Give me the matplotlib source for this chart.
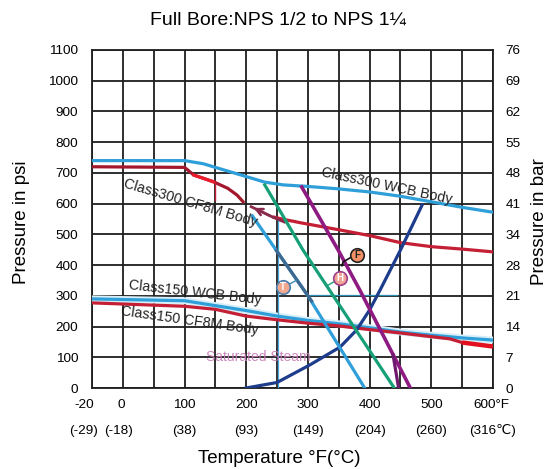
import numpy as np
import matplotlib
matplotlib.use("Agg")
import matplotlib.pyplot as plt
import matplotlib.transforms as mtransforms

plt.rcParams['font.family'] = ['Liberation Sans', 'DejaVu Sans']

# ---------------- data ----------------
x_tick_f = [-20, 0, 100, 200, 300, 400, 500, 600]
x_tick_f_labels = ["-20", "0", "100", "200", "300", "400", "500", "600°F"]
x_tick_c_labels = ["(-29)", "(-18)", "(38)", "(93)", "(149)", "(204)", "(260)", "(316℃)"]
y_psi_ticks = [0, 100, 200, 300, 400, 500, 600, 700, 800, 900, 1000, 1100]
y_bar_labels = ["0", "7", "14", "21", "28", "34", "41", "48", "55", "62", "69", "76"]

c300_wcb_t = [-20, 100, 130, 160, 200, 230, 260, 300, 350, 400, 450, 500, 550, 600]
c300_wcb_p = [740, 740, 730, 712, 688, 670, 661, 656, 648, 638, 624, 606, 588, 572]

c300_cf8m_t1 = [-20, 100, 115, 147, 170, 185, 195]
c300_cf8m_p1 = [720, 718, 693, 671, 650, 628, 606]
c300_cf8m_t2 = [245, 260, 290, 350, 400, 450, 500, 550, 600]
c300_cf8m_p2 = [556, 549, 537, 515, 496, 473, 460, 452, 443]
c300_arrow_t = [262, 243, 208]
c300_arrow_p = [540, 556, 590]

c150_wcb_t = [-20, 100, 150, 200, 250, 300, 350, 400, 450, 500, 550, 600]
c150_wcb_p = [290, 284, 268, 252, 234, 220, 209, 196, 182, 172, 163, 156]

c150_cf8m_t = [-20, 100, 150, 200, 250, 300, 350, 400, 450, 500, 530, 550]
c150_cf8m_p = [277, 266, 256, 234, 222, 211, 202, 190, 179, 167, 160, 148]
c150_cf8m_end_t = [550, 600]
c150_cf8m_end_p = [148, 135]

seat_t_t = [210, 300, 392]
seat_t_p = [560, 300, 0]
seat_t_dark_t = [249, 306]
seat_t_dark_p = [447, 283]

seat_h_t = [230, 292, 440]
seat_h_p = [661, 449, 0]

seat_f_t = [290, 349, 384, 466]
seat_f_p = [654, 449, 319, 0]
seat_f_branch_t = [438, 447]
seat_f_branch_p = [108, 0]

steam_t = [200, 250, 303, 352, 379, 400, 417, 450, 485]
steam_p = [0, 18, 75, 133, 189, 254, 319, 449, 595]

# ---------------- figure ----------------
W, H = 555, 469
fig = plt.figure(figsize=(W / 100, H / 100), dpi=100)
ax = fig.add_axes([92 / W, 1 - 388 / H, (493 - 92) / W, (388 - 50) / H])


def fwd(x):
    x = np.asarray(x, dtype=float)
    return np.where(x < 0, x * 2.5, x)


def inv(y):
    y = np.asarray(y, dtype=float)
    return np.where(y < 0, y / 2.5, y)


ax.set_xscale('function', functions=(fwd, inv))
ax.set_xlim(-20, 600)
ax.set_ylim(0, 1100)

grid_col = '#1e1e1e'
ax.set_xticks([-20, 0, 100, 200, 300, 400, 500, 600])
ax.set_xticks([50, 150, 250, 350, 450, 550], minor=True)
ax.set_yticks(y_psi_ticks)
ax.grid(True, which='both', color=grid_col, lw=1.3, zorder=0)
ax.tick_params(which='both', length=0)
ax.set_xticklabels([])
ax.set_yticklabels([str(v) for v in y_psi_ticks], fontsize=9.7)
ax.tick_params(axis='y', pad=10)
for s in ax.spines.values():
    s.set_color(grid_col)
    s.set_linewidth(1.3)

ax2 = ax.twinx()
ax2.set_ylim(0, 1100)
ax2.set_yticks(y_psi_ticks)
ax2.set_yticklabels(y_bar_labels, fontsize=9.7)
ax2.tick_params(length=0, pad=9)
for s in ax2.spines.values():
    s.set_visible(False)

# x tick labels (two rows)
blend = mtransforms.blended_transform_factory(ax.transData, ax.transAxes)
dx_px = {-20: -8, 0: -2, 600: -2}
for t, lf, lc in zip(x_tick_f, x_tick_f_labels, x_tick_c_labels):
    off = mtransforms.ScaledTranslation(dx_px.get(t, 0) / 100, 0, fig.dpi_scale_trans)
    ax.text(t, -0.05, lf, transform=blend + off, ha='center', va='center', fontsize=9.7)
    off2 = mtransforms.ScaledTranslation((dx_px.get(t, 0) - 2 if t == 0 else dx_px.get(t, 0) + (2 if t == 600 else 0)) / 100, 0, fig.dpi_scale_trans)
    ax.text(t, -0.127, lc, transform=blend + off2, ha='center', va='center', fontsize=9.7)

# ---------------- curves ----------------
lblue = '#2f9fd9'
red = '#c41f35'
dred = '#a3172d'
green = '#17a078'
purple = '#8e1b82'
navy = '#1d3c8c'
slate = '#3e6890'

lw = 2.3
ax.plot(c150_wcb_t, c150_wcb_p, color='#d8eef8', lw=5.0, zorder=3, solid_capstyle='butt')
ax.plot(c150_wcb_t, c150_wcb_p, color=lblue, lw=lw, zorder=4)
ax.plot(c150_cf8m_t, c150_cf8m_p, color=red, lw=lw, zorder=4)
ax.plot(c150_cf8m_end_t, c150_cf8m_end_p, color='#e3101f', lw=3.2, zorder=4, solid_capstyle='butt')

ax.plot(c300_wcb_t, c300_wcb_p, color=lblue, lw=lw, zorder=4)
ax.plot(c300_cf8m_t1, c300_cf8m_p1, color=dred, lw=lw, zorder=4)
ax.plot([115, 147], [693, 671], color='#ec1c2c', lw=lw, zorder=4)
ax.plot([150, 150], [612, 671], color=red, lw=1.0, zorder=4)
ax.plot(c300_cf8m_t2, c300_cf8m_p2, color=red, lw=lw, zorder=4)
ax.plot(c300_arrow_t, c300_arrow_p, color='#8a2a4c', lw=2.0, zorder=4)
ax.annotate('', xy=(c300_arrow_t[-1], c300_arrow_p[-1]), xytext=(c300_arrow_t[-2], c300_arrow_p[-2]),
            arrowprops=dict(arrowstyle='->', color='#8a2a4c', lw=1.8, mutation_scale=12), zorder=4)

# construction lines
ax.plot([251, 251], [0, 547], color='#4aa8e0', lw=0.9, zorder=3)
ax.plot([251, 279], [547, 547], color='#2aa080', lw=0.9, zorder=3)
ax.plot([303, 444], [303, 303], color='#2a8fb0', lw=0.9, zorder=3)

ax.plot(steam_t, steam_p, color=navy, lw=lw, zorder=5)
ax.plot(seat_t_t, seat_t_p, color=lblue, lw=lw, zorder=5)
ax.plot(seat_t_dark_t, seat_t_dark_p, color=slate, lw=lw, zorder=5)
ax.plot(seat_h_t, seat_h_p, color=green, lw=lw, zorder=5)
ax.plot(seat_f_t, seat_f_p, color=purple, lw=lw + 0.3, zorder=5)
ax.plot(seat_f_branch_t, seat_f_branch_p, color='#6e1a6e', lw=lw, zorder=5)

# ---------------- markers ----------------
ax.plot([268, 281], [336, 350], color='#3e8ab8', lw=1.0, zorder=6)
ax.plot([346, 333, 331], [350, 335, 335], color=green, lw=1.0, zorder=6)
ax.plot([372, 357, 355], [428, 410, 398], color='#111111', lw=1.2, zorder=6)
for (tx, ty, lab, fc, ec, tc) in [(259.6, 329, 'T', '#f2a88e', '#4a7fb0', 'white'),
                                  (352, 358, 'H', '#f0a494', '#a0408c', 'white'),
                                  (379.5, 433, 'F', '#f29066', '#222222', '#222222')]:
    ax.scatter([tx], [ty], s=95, facecolor=fc, edgecolor=ec, linewidth=1.2, zorder=7)
    ax.text(tx, ty, lab, ha='center', va='center', fontsize=7, color=tc, fontweight='bold', zorder=8)

# ---------------- curve labels ----------------
tc_ = '#222222'
ax.text(428, 657, 'Class300 WCB Body', rotation=-12, ha='center', va='center', fontsize=10.3, color=tc_, zorder=6)
ax.text(109, 602, 'Class300 CF8M Body', rotation=-16.5, ha='center', va='center', fontsize=10.3, color=tc_, zorder=6)
ax.text(117, 309, 'Class150 WCB Body', rotation=-6.5, ha='center', va='center', fontsize=10.3, color=tc_, zorder=6)
ax.text(109, 218, 'Class150 CF8M Body', rotation=-8, ha='center', va='center', fontsize=10.3, color=tc_, zorder=6)
ax.text(219, 100, 'Saturated Steam', ha='center', va='center', fontsize=10, color='#c77bb6', alpha=0.9, zorder=6)

# ---------------- titles ----------------
fig.text(277.5 / W, 1 - 20 / H, 'Full Bore:NPS 1/2 to NPS 1¼', ha='center', va='center', fontsize=14)
fig.text(279 / W, 1 - 458 / H, 'Temperature °F(°C)', ha='center', va='center', fontsize=13.5)
fig.text(22 / W, 1 - 222 / H, 'Pressure in psi', rotation=90, ha='center', va='center', fontsize=13.5)
fig.text(540 / W, 1 - 222 / H, 'Pressure in bar', rotation=90, ha='center', va='center', fontsize=13.5)

fig.savefig('out.png', dpi=100)
